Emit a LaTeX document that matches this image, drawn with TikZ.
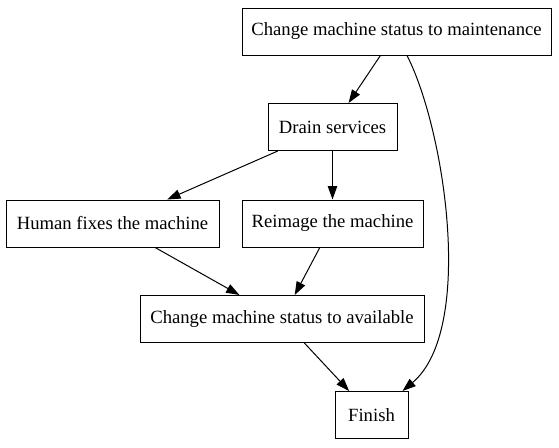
\documentclass[tikz,border=0pt]{standalone}
\usepackage{fontspec}
\setmainfont{Liberation Serif}
\usetikzlibrary{arrows.meta}
\begin{document}
\begin{tikzpicture}[x=0.75pt,y=-0.75pt,
  box/.style={draw,line width=0.75pt,inner sep=0pt,minimum height=35.25pt,
    font=\fontsize{14}{16.8}\selectfont},
  edge/.style={line width=0.75pt,-{Triangle[length=10pt,width=7pt]}}]
\useasboundingbox (0,0) rectangle (559,447);
\node[box,minimum width=231.75pt] (m) at (396.5,31.5) {Change machine status to maintenance};
\node[box,minimum width=96.75pt] (d) at (332.5,127) {Drain services};
\node[box,minimum width=159.75pt] (h) at (112.5,223.5) {Human fixes the machine};
\node[box,minimum width=135.75pt] (r) at (332.5,223.5) {Reimage the machine};
\node[box,minimum width=213pt] (a) at (282,319) {Change machine status to available};
\node[box,minimum width=54.75pt] (f) at (371.5,415) {Finish};
\draw[edge] (m) -- (d);
\draw[edge] (d) -- (h);
\draw[edge] (d) -- (r);
\draw[edge] (h) -- (a);
\draw[edge] (r) -- (a);
\draw[edge] (a) -- (f);
\draw[edge] ([xshift=7.9pt]m.south) .. controls (445,130) and (475,330) .. ([xshift=-4.5pt]f.north east);
\end{tikzpicture}
\end{document}
